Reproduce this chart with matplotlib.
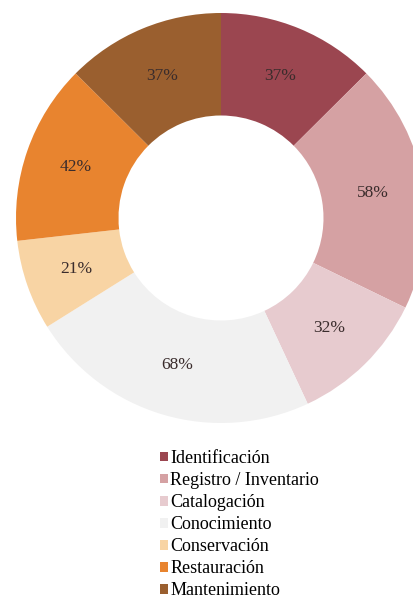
import matplotlib
matplotlib.use("Agg")
import matplotlib.pyplot as plt
from matplotlib.patches import Patch

categories = ["Identificación", "Registro / Inventario", "Catalogación", "Conocimiento",
              "Conservación", "Restauración", "Mantenimiento"]
values = [37, 58, 32, 68, 21, 42, 37]
colors = ["#9b4650", "#d5a1a3", "#e7cbcf", "#f1f1f1", "#f8d4a4", "#e8842f", "#9a5f2f"]

plt.rcParams["font.family"] = ["Liberation Serif", "DejaVu Serif"]

W, H = 414, 610
fig = plt.figure(figsize=(W / 100, H / 100), dpi=100)

# donut centre and radius in pixels
cx, cy, r = 221, 218, 205
ax = fig.add_axes([(cx - r) / W, (H - cy - r) / H, 2 * r / W, 2 * r / H])

total = sum(values)
wedges, _, autotexts = ax.pie(
    values, colors=colors, startangle=90, counterclock=False,
    radius=1.0, wedgeprops=dict(width=0.5, linewidth=0),
    autopct=lambda p: f"{round(p * total / 100)}%", pctdistance=0.75,
    textprops=dict(fontsize=12.5, color="#3a2c2c"),
)
ax.set_xlim(-1, 1)
ax.set_ylim(-1, 1)
ax.set_aspect("equal")
ax.axis("off")

handles = [Patch(facecolor=c, edgecolor="none") for c in colors]
fig.legend(handles, categories, loc="upper left",
           bbox_to_anchor=(160 / W, 1 - 450 / H), frameon=False,
           fontsize=13, handlelength=0.45, handleheight=0.45, handletextpad=0.12,
           labelspacing=0.28, borderaxespad=0, borderpad=0)

fig.savefig("out.png", dpi=100, facecolor="white")
